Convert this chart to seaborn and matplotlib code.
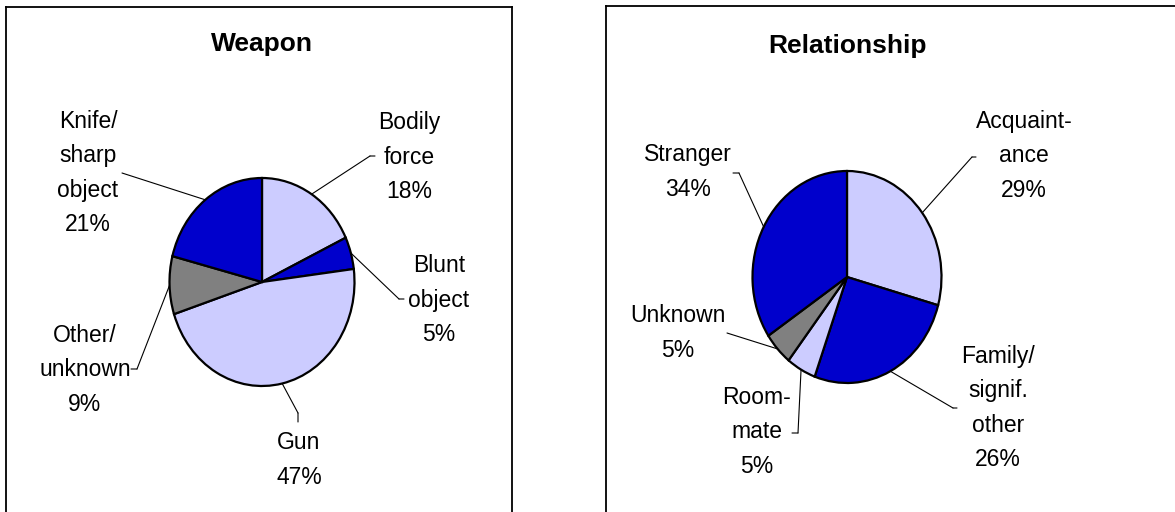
import numpy as np
import matplotlib
matplotlib.use("Agg")
import matplotlib.pyplot as plt
import seaborn as sns

sns.set_theme(style="white")
plt.rcParams["font.family"] = ["Liberation Sans", "DejaVu Sans"]

# data
weapon_labels = ["Bodily\nforce", "Blunt\nobject", "Gun", "Other/\nunknown", "Knife/\nsharp\nobject"]
weapon_pct = [18, 5, 47, 9, 21]

rel_labels = ["Acquaint-\nance", "Family/\nsignif.\nother", "Room-\nmate", "Unknown", "Stranger"]
rel_pct = [29, 26, 5, 5, 34]

light = "#CCCCFF"
blue = "#0000CC"
grey = "#808080"
weapon_colors = [light, blue, light, grey, blue]
rel_colors = [light, blue, light, grey, blue]

W, H = 1175, 512
dpi = 100
fig = plt.figure(figsize=(W / dpi, H / dpi), dpi=dpi)


def fpx(x, y):
    # pixel (top-left origin) -> figure fraction
    return (x / W, 1 - y / H)


# layout per panel: box (left, top, right, bottom) px, pie centre px, radii px,
# label centres px and leader elbow / end points px
panels = [
    dict(title="Weapon", title_y=51, labels=weapon_labels, pct=weapon_pct, colors=weapon_colors,
         box=(6, 7, 512, 530), centre=(262, 282), r=(92.5, 104),
         text_pos=[(409, 157), (439, 300), (299, 460), (85, 370), (88, 173)],
         elbow=[(370, 156), (399, 299), (298, 413), (137, 369), (122, 173)],
         tail=[(375, 156), (404, 299), (298, 422), (131, 369), (122, 173)]),
    dict(title="Relationship", title_y=53, labels=rel_labels, pct=rel_pct, colors=rel_colors,
         box=(606, 6, 1190, 530), centre=(847, 277), r=(94.5, 106),
         text_pos=[(1024, 156), (998, 408), (757, 432), (678, 333), (688, 172)],
         elbow=[(972, 157), (953, 408), (798, 433), (727, 333), (739, 173)],
         tail=[(976, 157), (957, 408), (792, 433), (727, 333), (733, 173)]),
]

for p in panels:
    l, t, r, b = p["box"]
    cx, cy = p["centre"]
    rx, ry = p["r"]
    ax = fig.add_axes([l / W, 1 - b / H, (r - l) / W, (b - t) / H])
    wedges, _ = ax.pie(p["pct"], colors=p["colors"], startangle=90, counterclock=False,
                       wedgeprops=dict(edgecolor="black", linewidth=1.6))
    # the original pies are slightly taller than wide
    ax.set_aspect("auto")
    ax.set_xlim((l - cx) / rx, (r - cx) / rx)
    ax.set_ylim(-(b - cy) / ry, (cy - t) / ry)
    ax.set_frame_on(True)
    for s in ax.spines.values():
        s.set_color("black")
        s.set_linewidth(1.3)
    ax.set_xticks([])
    ax.set_yticks([])

    fig.text(*fpx(cx, p["title_y"]), p["title"], ha="center", va="baseline",
             fontsize=19, fontweight="bold", color="black")

    for w, lab, v, tp, el, tl in zip(wedges, p["labels"], p["pct"], p["text_pos"], p["elbow"], p["tail"]):
        mid = np.deg2rad((w.theta1 + w.theta2) / 2)
        ax.annotate("", xy=(np.cos(mid), np.sin(mid)), xycoords="data",
                    xytext=fpx(*el), textcoords="figure fraction",
                    arrowprops=dict(arrowstyle="-", lw=0.8, color="black", shrinkA=0, shrinkB=0))
        if el != tl:
            ax.annotate("", xy=fpx(*el), xycoords="figure fraction",
                        xytext=fpx(*tl), textcoords="figure fraction",
                        arrowprops=dict(arrowstyle="-", lw=0.8, color="black", shrinkA=0, shrinkB=0))
        fig.text(*fpx(*tp), "%s\n%d%%" % (lab, v), ha="center", va="center",
                 multialignment="center", fontsize=16.5, linespacing=1.64, color="black")

fig.savefig("out.png", dpi=dpi, facecolor="white")
